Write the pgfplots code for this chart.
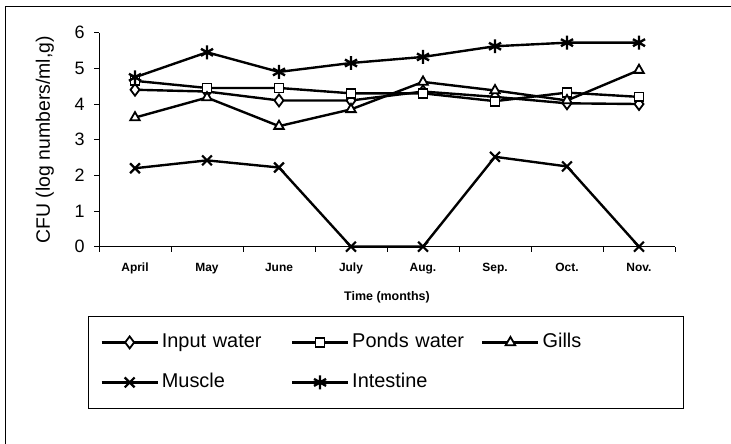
\documentclass[border=0pt]{standalone}
\usepackage{pgfplots}
\pgfplotsset{compat=1.18}
\usepackage{fontspec}
\setmainfont{Liberation Sans}
\begin{document}
\begin{tikzpicture}[x=1bp,y=1bp]
\path[use as bounding box] (0,0) rectangle (731,444);
\draw[line width=1pt] (5,0) -- (5,437) -- (731,437);
\begin{axis}[
  at={(99bp,197.3bp)}, anchor=south west,
  scale only axis, width=576bp, height=214bp,
  xmin=-0.5, xmax=7.5, ymin=0, ymax=6,
  axis x line=bottom, axis y line=left,
  axis line style={-, line width=1pt},
  xtick={0,...,7},
  xticklabels={April,May,June,July,Aug.,Sep.,Oct.,Nov.},
  minor xtick={-0.5,0.5,...,7.5},
  major x tick style={draw=none},
  minor tick length=5bp,
  tick style={black, line width=0.8pt},
  xtick pos=bottom, ytick pos=left,
  ytick={0,...,6},
  tick align=outside,
  major tick length=5bp,
  /pgf/number format/assume math mode=true,
  yticklabel style={font=\fontsize{18}{18}\selectfont, xshift=-6bp},
  xticklabel style={font=\fontsize{12}{12}\selectfont\bfseries, yshift=-8bp},
  ylabel={CFU (log numbers/ml,g)},
  ylabel style={font=\fontsize{19.5}{19.5}\selectfont, at={(axis description cs:-0.094,0.5)}, anchor=center},
  xlabel={Time (months)},
  xlabel style={font=\fontsize{12.5}{12.5}\selectfont\bfseries, at={(axis description cs:0.5,-0.235)}, anchor=center},
  every axis plot/.append style={black, line width=2.4pt, mark options={solid, fill=white, line width=1.8pt}},
  legend columns=3,
  legend cell align=left,
  legend image code/.code={\draw[mark repeat=2,mark phase=2] plot coordinates {(0bp,0bp) (28bp,0bp) (56bp,0bp)};},
  legend style={at={(axis description cs:-0.019,-0.324)}, anchor=north west,
    draw=black, line width=0.8pt,
    font=\fontsize{20}{20}\selectfont,
    nodes={text width=127bp, text height=14bp, text depth=4bp, inner xsep=2bp},
    row sep=18bp, inner xsep=12bp, inner ysep=15bp,
    /tikz/every odd column/.append style={column sep=1bp}},
  clip=false,
]
\addplot[mark=diamond*, mark size=6pt] coordinates {(0,4.4) (1,4.35) (2,4.1) (3,4.1) (4,4.35) (5,4.2) (6,4.02) (7,4.0)};
\addlegendentry{Input water}
\addplot[mark=square*, mark size=4.5pt] coordinates {(0,4.65) (1,4.45) (2,4.45) (3,4.3) (4,4.3) (5,4.08) (6,4.32) (7,4.2)};
\addlegendentry{Ponds water}
\addplot[mark=triangle*, mark size=5.5pt] coordinates {(0,3.62) (1,4.18) (2,3.38) (3,3.85) (4,4.62) (5,4.38) (6,4.1) (7,4.95)};
\addlegendentry{Gills}
\addplot[mark=x, mark size=7pt, mark options={line width=2.2pt}] coordinates {(0,2.2) (1,2.42) (2,2.22) (3,0) (4,0) (5,2.52) (6,2.25) (7,0)};
\addlegendentry{Muscle}
\addplot[mark=asterisk, mark size=7pt, mark options={line width=2.4pt}] coordinates {(0,4.75) (1,5.45) (2,4.9) (3,5.15) (4,5.32) (5,5.62) (6,5.72) (7,5.72)};
\addlegendentry{Intestine}
\end{axis}
\end{tikzpicture}
\end{document}
